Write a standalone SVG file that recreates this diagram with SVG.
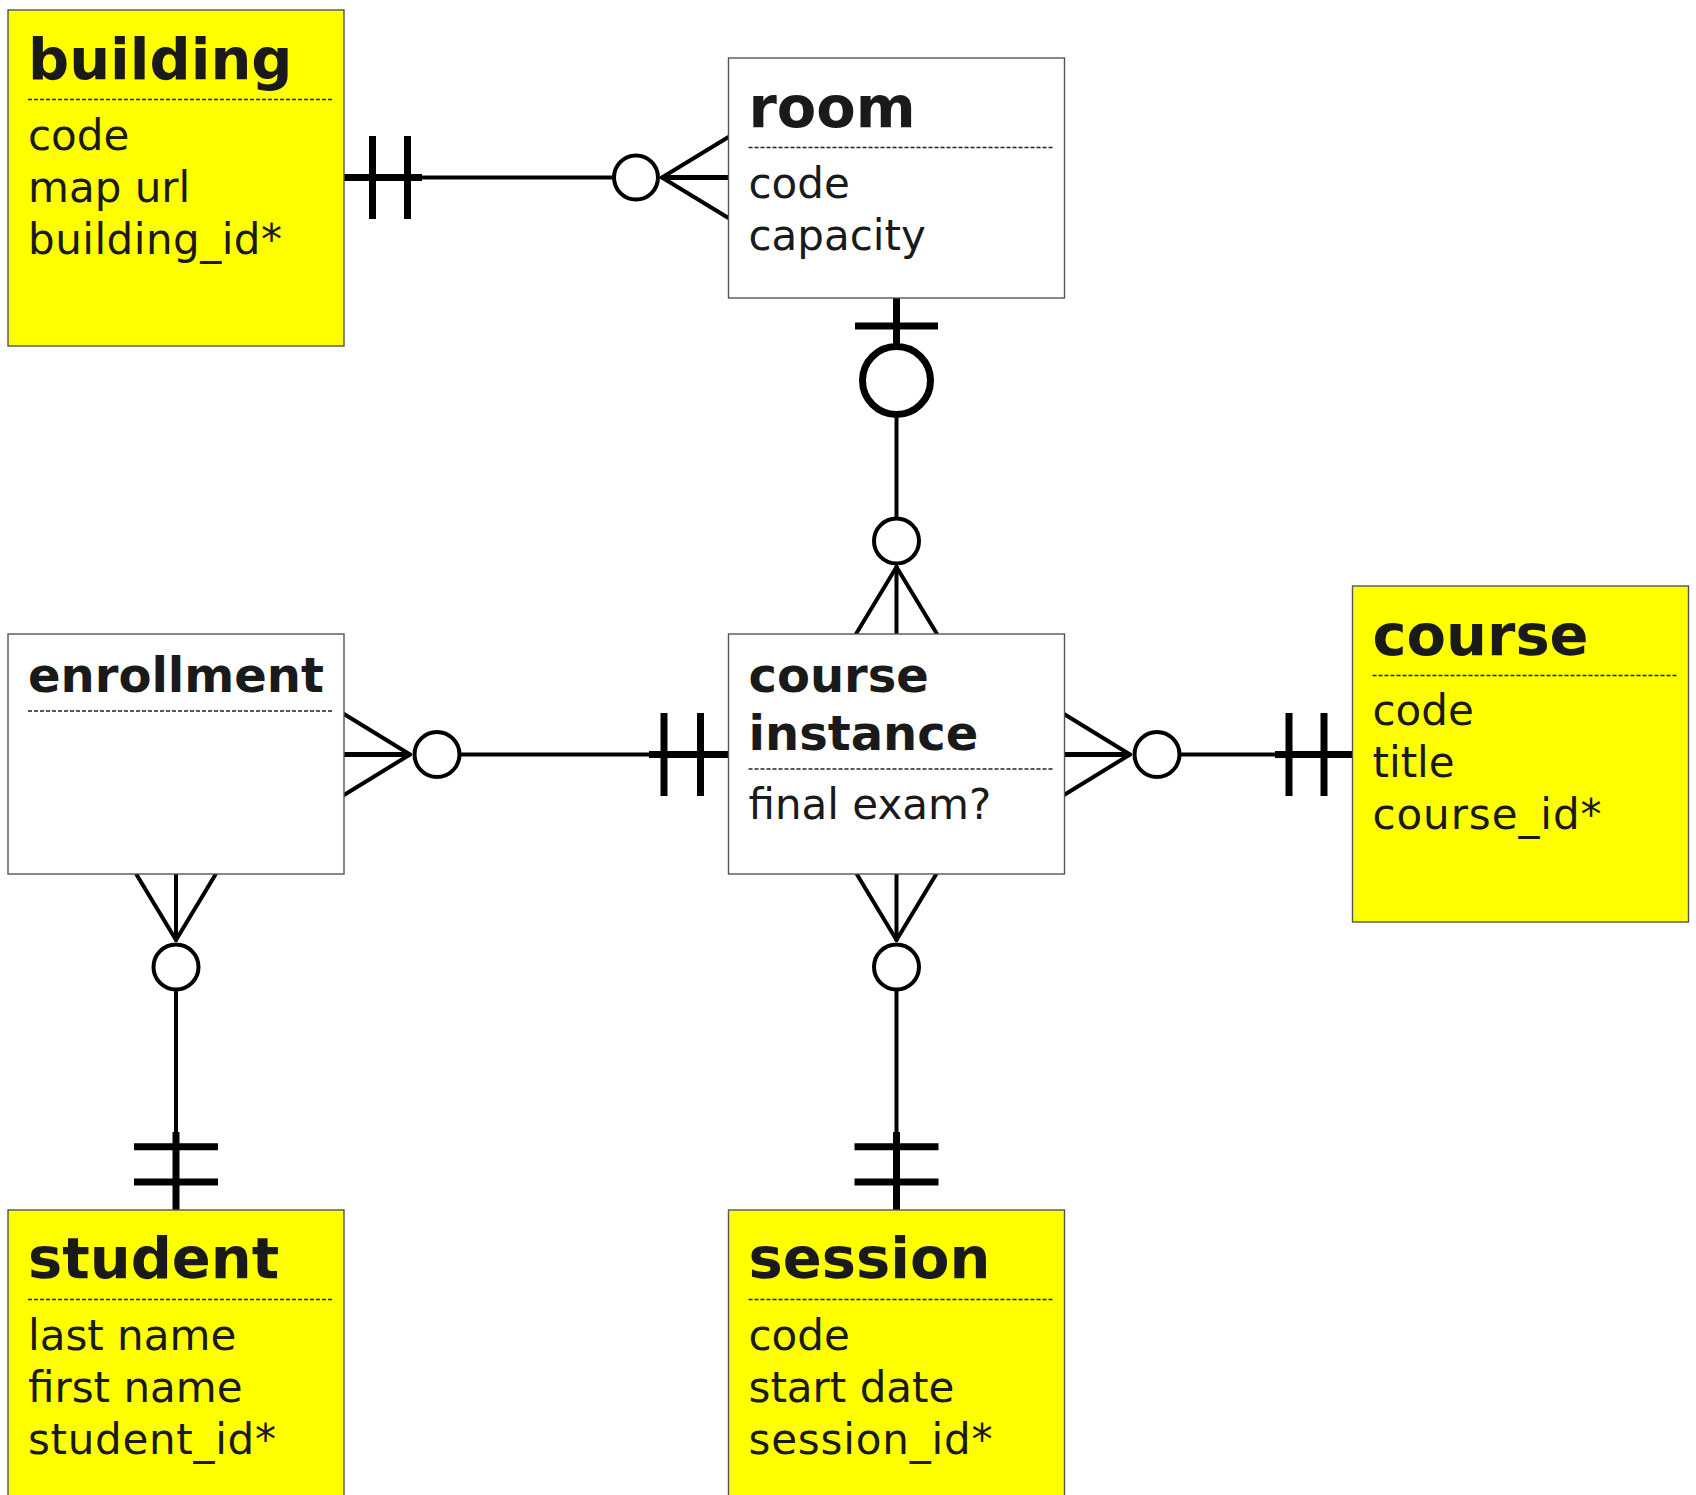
<svg xmlns="http://www.w3.org/2000/svg" width="1696" height="1495" viewBox="0 0 1696 1495">
<style>
.box{stroke:#555;stroke-width:1.4}
.yel{fill:#ffff00}
.wht{fill:#ffffff}
.t1{font-family:"DejaVu Sans",Verdana,sans-serif;font-weight:bold;font-size:57.5px;fill:#1a1a1a}
.t2{font-family:"DejaVu Sans",Verdana,sans-serif;font-weight:bold;font-size:48px;fill:#1a1a1a}
.at{font-family:"DejaVu Sans",Verdana,sans-serif;font-size:42px;fill:#1a1a1a}
.dash{stroke:#222;stroke-width:1.7;stroke-dasharray:4 2}
.thin{stroke:#000;stroke-width:4;fill:none}
.thick{stroke:#000;stroke-width:7;fill:none}
.crow{stroke:#000;stroke-width:4;fill:none;stroke-linecap:round}
.circ{stroke:#000;stroke-width:4;fill:#fff}
.bigc{stroke:#000;stroke-width:7;fill:#fff}
</style>
<rect width="1696" height="1495" fill="#ffffff"/>
<g id="connectors">
  <!-- building - room -->
  <line class="thick" x1="344" y1="177.5" x2="422" y2="177.5"/>
  <line class="thin" x1="420" y1="177.5" x2="614" y2="177.5"/>
  <line class="thick" x1="372.5" y1="136" x2="372.5" y2="219"/>
  <line class="thick" x1="407.5" y1="136" x2="407.5" y2="219"/>
  <line class="crow" x1="662" y1="177.5" x2="728.5" y2="137"/>
  <line class="crow" x1="662" y1="177.5" x2="728.5" y2="218"/>
  <line class="thick" style="stroke-width:5" x1="662" y1="177.5" x2="728.5" y2="177.5"/>
  <circle class="circ" cx="636" cy="177.5" r="22"/>
  <!-- room - course instance -->
  <line class="thick" x1="896.5" y1="298" x2="896.5" y2="350"/>
  <line class="thick" x1="855" y1="326" x2="938" y2="326"/>
  <line class="thin" x1="896.5" y1="412" x2="896.5" y2="520"/>
  <circle class="bigc" cx="896.5" cy="380.5" r="34"/>
  <line class="crow" x1="896.5" y1="567" x2="856" y2="634"/>
  <line class="crow" x1="896.5" y1="567" x2="937" y2="634"/>
  <line class="crow" x1="896.5" y1="567" x2="896.5" y2="634"/>
  <circle class="circ" cx="896.5" cy="541" r="22.5"/>
  <!-- enrollment - course instance -->
  <line class="crow" x1="344" y1="714" x2="410" y2="754.5"/>
  <line class="crow" x1="344" y1="795" x2="410" y2="754.5"/>
  <line class="thick" style="stroke-width:5" x1="344" y1="754.5" x2="410" y2="754.5"/>
  <circle class="circ" cx="437" cy="754.5" r="22.5"/>
  <line class="thin" x1="459.5" y1="754.5" x2="651" y2="754.5"/>
  <line class="thick" x1="649" y1="754.5" x2="728.5" y2="754.5"/>
  <line class="thick" x1="664" y1="713" x2="664" y2="796"/>
  <line class="thick" x1="700.5" y1="713" x2="700.5" y2="796"/>
  <!-- course instance - course -->
  <line class="crow" x1="1064" y1="714" x2="1130" y2="754.5"/>
  <line class="crow" x1="1064" y1="795" x2="1130" y2="754.5"/>
  <line class="thick" style="stroke-width:5" x1="1064" y1="754.5" x2="1130" y2="754.5"/>
  <circle class="circ" cx="1157" cy="754.5" r="22.5"/>
  <line class="thin" x1="1179.5" y1="754.5" x2="1277" y2="754.5"/>
  <line class="thick" x1="1275" y1="754.5" x2="1352.5" y2="754.5"/>
  <line class="thick" x1="1289" y1="713" x2="1289" y2="796"/>
  <line class="thick" x1="1324" y1="713" x2="1324" y2="796"/>
  <!-- enrollment - student -->
  <line class="crow" x1="136.5" y1="874.5" x2="176" y2="940"/>
  <line class="crow" x1="215.5" y1="874.5" x2="176" y2="940"/>
  <line class="crow" x1="176" y1="874.5" x2="176" y2="940"/>
  <circle class="circ" cx="176" cy="967" r="22.5"/>
  <line class="thin" x1="176" y1="989.5" x2="176" y2="1134"/>
  <line class="thick" x1="176" y1="1132" x2="176" y2="1210"/>
  <line class="thick" x1="134" y1="1146.7" x2="218" y2="1146.7"/>
  <line class="thick" x1="134" y1="1182" x2="218" y2="1182"/>
  <!-- course instance - session -->
  <line class="crow" x1="857" y1="874.5" x2="896.5" y2="940"/>
  <line class="crow" x1="936" y1="874.5" x2="896.5" y2="940"/>
  <line class="crow" x1="896.5" y1="874.5" x2="896.5" y2="940"/>
  <circle class="circ" cx="896.5" cy="967" r="22.5"/>
  <line class="thin" x1="896.5" y1="989.5" x2="896.5" y2="1134"/>
  <line class="thick" x1="896.5" y1="1132" x2="896.5" y2="1210"/>
  <line class="thick" x1="854.5" y1="1146.7" x2="938.5" y2="1146.7"/>
  <line class="thick" x1="854.5" y1="1182" x2="938.5" y2="1182"/>
</g>
<g id="building">
  <rect class="box yel" x="8" y="10" width="336" height="336"/>
  <text class="t1" x="28" y="79">building</text>
  <line class="dash" x1="28" y1="99.5" x2="332.5" y2="99.5"/>
  <text class="at" x="28" y="149.5">code</text>
  <text class="at" x="28" y="201.5">map url</text>
  <text class="at" x="28" y="253.5" textLength="254" lengthAdjust="spacing">building_id*</text>
</g>
<g id="room">
  <rect class="box wht" x="728.5" y="58" width="336" height="240"/>
  <text class="t1" x="748.5" y="127">room</text>
  <line class="dash" x1="748.5" y1="147.5" x2="1053" y2="147.5"/>
  <text class="at" x="748.5" y="197.5">code</text>
  <text class="at" x="748.5" y="249.5">capacity</text>
</g>
<g id="enrollment">
  <rect class="box wht" x="8" y="634" width="336" height="240"/>
  <text class="t2" x="28" y="692">enrollment</text>
  <line class="dash" x1="28" y1="711" x2="332.5" y2="711"/>
</g>
<g id="course_instance">
  <rect class="box wht" x="728.5" y="634" width="336" height="240"/>
  <text class="t2" x="748.5" y="692">course</text>
  <text class="t2" x="748.5" y="750">instance</text>
  <line class="dash" x1="748.5" y1="769" x2="1053" y2="769"/>
  <text class="at" x="748.5" y="818.5">final exam?</text>
</g>
<g id="course">
  <rect class="box yel" x="1352.5" y="586" width="336" height="336"/>
  <text class="t1" x="1372.5" y="655">course</text>
  <line class="dash" x1="1372.5" y1="675.5" x2="1677" y2="675.5"/>
  <text class="at" x="1372.5" y="725">code</text>
  <text class="at" x="1372.5" y="777">title</text>
  <text class="at" x="1372.5" y="829" textLength="229" lengthAdjust="spacing">course_id*</text>
</g>
<g id="student">
  <rect class="box yel" x="8" y="1210" width="336" height="336"/>
  <text class="t1" x="28" y="1278">student</text>
  <line class="dash" x1="28" y1="1299.5" x2="332.5" y2="1299.5"/>
  <text class="at" x="28" y="1349.5">last name</text>
  <text class="at" x="28" y="1401.5">first name</text>
  <text class="at" x="28" y="1453.5" textLength="248" lengthAdjust="spacing">student_id*</text>
</g>
<g id="session">
  <rect class="box yel" x="728.5" y="1210" width="336" height="336"/>
  <text class="t1" x="748.5" y="1278">session</text>
  <line class="dash" x1="748.5" y1="1299.5" x2="1053" y2="1299.5"/>
  <text class="at" x="748.5" y="1349.5">code</text>
  <text class="at" x="748.5" y="1401.5">start date</text>
  <text class="at" x="748.5" y="1453.5" textLength="244" lengthAdjust="spacing">session_id*</text>
</g>
</svg>
